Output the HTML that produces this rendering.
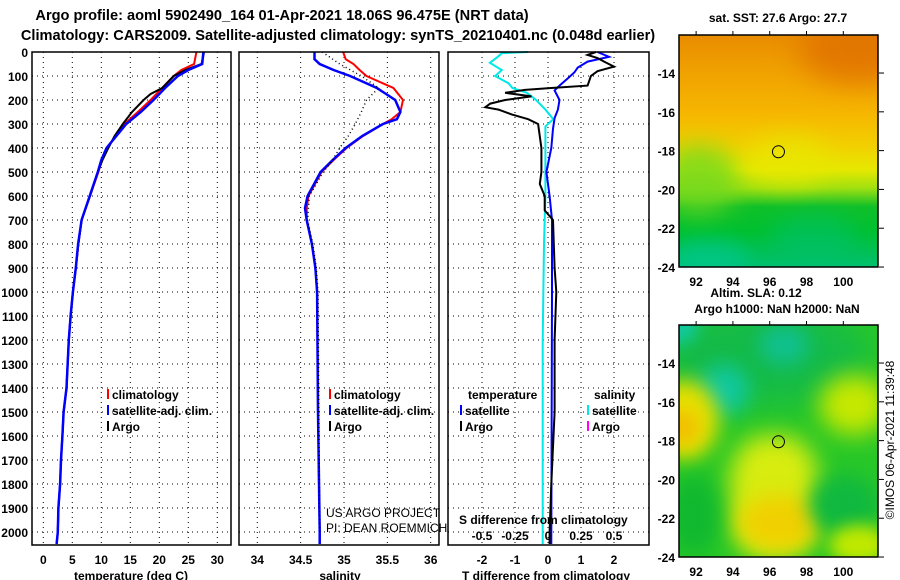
<!DOCTYPE html>
<html><head><meta charset="utf-8"><style>
body{margin:0;background:#fff;}
svg{display:block;font-family:"Liberation Sans",sans-serif;}
</style></head><body>
<div style="position:relative;width:900px;height:580px;overflow:hidden">
<div style="position:absolute;left:679px;top:35px;width:199px;height:232px;overflow:hidden;background:linear-gradient(180deg,#e88c00 0%,#f0a000 15%,#f6b800 35%,#f2d000 48%,#e6e800 58%,#a0e010 66%,#10c028 74%,#00c030 85%,#00c070 100%);">
  <div style="position:absolute;left:120px;top:-20px;width:120px;height:70px;background:#e07000;border-radius:50%;filter:blur(14px);opacity:.8"></div>
  <div style="position:absolute;left:-20px;top:110px;width:80px;height:70px;background:#70d820;border-radius:50%;filter:blur(12px);opacity:.8"></div>
  <div style="position:absolute;left:70px;top:100px;width:80px;height:50px;background:#e8e800;border-radius:50%;filter:blur(12px);opacity:.7"></div>
  <div style="position:absolute;left:90px;top:180px;width:90px;height:50px;background:#00c070;border-radius:50%;filter:blur(12px);opacity:.6"></div>
  <div style="position:absolute;left:-10px;top:205px;width:80px;height:40px;background:#00c890;border-radius:50%;filter:blur(10px);opacity:.7"></div>
</div>
<div style="position:absolute;left:679px;top:325px;width:199px;height:232px;overflow:hidden;background:#28c828;">
  <div style="position:absolute;left:-20px;top:-20px;width:210px;height:100px;background:#10b850;border-radius:50%;filter:blur(16px);opacity:.8"></div>
  <div style="position:absolute;left:20px;top:40px;width:50px;height:50px;background:#10c8a0;border-radius:50%;filter:blur(10px)"></div>
  <div style="position:absolute;left:-30px;top:-20px;width:50px;height:40px;background:#10c8a0;border-radius:50%;filter:blur(8px)"></div>
  <div style="position:absolute;left:80px;top:0px;width:50px;height:40px;background:#10c090;border-radius:50%;filter:blur(10px)"></div>
  <div style="position:absolute;left:50px;top:110px;width:90px;height:125px;background:#d8ec10;border-radius:40%;filter:blur(12px)"></div>
  <div style="position:absolute;left:60px;top:170px;width:80px;height:55px;background:#f0d000;border-radius:50%;filter:blur(10px)"></div>
  <div style="position:absolute;left:-30px;top:55px;width:70px;height:80px;background:#e8e000;border-radius:50%;filter:blur(10px)"></div>
  <div style="position:absolute;left:-15px;top:85px;width:35px;height:35px;background:#f0c000;border-radius:50%;filter:blur(8px)"></div>
  <div style="position:absolute;left:140px;top:50px;width:70px;height:60px;background:#c8e800;border-radius:50%;filter:blur(12px)"></div>
  <div style="position:absolute;left:130px;top:150px;width:70px;height:60px;background:#10b840;border-radius:50%;filter:blur(10px)"></div>
  <div style="position:absolute;left:150px;top:200px;width:60px;height:40px;background:#c0e800;border-radius:50%;filter:blur(8px)"></div>
  <div style="position:absolute;left:-10px;top:150px;width:50px;height:80px;background:#10b830;border-radius:50%;filter:blur(10px)"></div>
</div>
<svg id="s" width="900" height="580" style="position:absolute;left:0;top:0"></svg>
</div>
<script>
// ---- data ----
const depthTC=[0,50,75,100,150,200,250,300,350,400,450,500,600,700,800,900,1000,1100,1200,1400,1500,1600,1700,1800,1900,2000,2050];
const tempClim=[26.4,26.0,23.8,22.5,20.5,18.5,16.3,14.0,12.5,10.9,10.1,9.5,8.05,6.6,6.05,5.6,5.1,4.7,4.4,4.0,3.5,3.3,3.05,2.9,2.6,2.5,2.3];
const tempSat=[27.6,27.4,25.0,23.2,21.0,19.0,16.8,14.3,12.6,10.9,10.0,9.4,8.0,6.6,6.0,5.6,5.1,4.7,4.4,4.0,3.5,3.3,3.05,2.9,2.6,2.5,2.3];
const depthTA=[0,50,75,100,150,175,200,250,300,350,400,450,500,600,700,800,900,1000,1100,1200,1400,1500,1600,1700,1800,1900,2000];
const tempArgo=[27.7,27.3,24.5,22.5,20.5,18.5,17.3,15.3,13.7,12.3,11.2,10.2,9.4,8.05,6.6,6.05,5.6,5.1,4.7,4.4,4.0,3.5,3.3,3.05,2.9,2.6,2.5];
const depthS=[0,30,50,75,100,150,200,250,280,300,350,400,450,500,600,650,700,800,900,1000,1500,2000,2050];
const salClim=[34.99,35.02,35.11,35.18,35.26,35.57,35.68,35.65,35.55,35.45,35.22,35.03,34.88,34.74,34.59,34.57,34.57,34.63,34.67,34.69,34.70,34.72,34.72];
const salSat=[34.66,34.66,34.72,34.88,35.07,35.38,35.59,35.65,35.61,35.45,35.21,35.02,34.87,34.73,34.58,34.55,34.57,34.63,34.67,34.69,34.70,34.72,34.72];
const depthSA=[0,50,100,150,200,250,300,350,400,450,500,600,700,800,900,1000,1500,2000];
const salArgo=[34.75,34.95,35.2,35.4,35.26,35.2,35.13,35.05,34.95,34.87,34.76,34.6,34.58,34.64,34.68,34.7,34.71,34.72];
const depthTD=[0,12,25,40,61,80,100,140,150,158,170,185,200,215,230,240,260,280,300,400,500,550,600,660,700,900,1000,1200,1500,1800,2000,2050];
const tdiffArgo=[1.45,1.2,1.5,1.7,2.0,1.5,1.3,1.2,0.1,-0.7,-1.3,-0.5,-1.3,-1.75,-1.9,-1.5,-1.1,-0.6,-0.3,-0.2,-0.2,-0.25,-0.1,-0.1,0.15,0.2,0.25,0.2,0.2,0.1,0.05,0.05];
const depthTS=[0,20,40,65,85,110,140,160,200,240,275,320,400,500,600,700,1000,2050];
const tdiffSat=[1.5,1.85,1.2,0.9,0.8,0.6,0.35,0.2,0.35,0.3,0.2,0.15,0.1,-0.05,0.05,0.12,0.12,0.1];
const depthSS=[0,5,20,45,75,100,130,150,170,200,240,280,310,400,600,800,1200,2050];
const sdiffSat=[-0.15,-0.35,-0.38,-0.44,-0.35,-0.4,-0.3,-0.27,-0.16,-0.09,-0.02,0.04,-0.02,-0.02,-0.02,-0.03,-0.04,-0.04];
const depthTicks=[0,100,200,300,400,500,600,700,800,900,1000,1100,1200,1300,1400,1500,1600,1700,1800,1900,2000];
const tempTicks=[0,5,10,15,20,25,30];
const salTicks=[34,34.5,35,35.5,36];
const tdTicks=[-2,-1,0,1,2];
const sdTicks=[-0.5,-0.25,0,0.25,0.5];
const sdTickLabels=["-0.5","-0.25","0","0.25","0.5"];
const lonTicks=[92,94,96,98,100];
const latTicks=[-14,-16,-18,-20,-22,-24];
const argoLon=96.475, argoLat=-18.06;

// ---- scales ----
const Y=d=>52+d*0.24;
const XT=t=>43.3+t*5.8;
const XS=s=>257.3+(s-34)*86.7;
const XTD=v=>548+v*33;
const XSD=v=>548+v*132;
const LON=l=>679+(l-91.07)*18.4;
const LAT1=a=>35+(-12.04-a)*19.4;
const LAT2=a=>325+(-12.04-a)*19.4;

const svg=document.getElementById('s');
const NS='http://www.w3.org/2000/svg';
function mk(tag,attrs,parent){const e=document.createElementNS(NS,tag);for(const k in attrs)e.setAttribute(k,attrs[k]);(parent||svg).appendChild(e);return e;}
function txt(x,y,s,size,anchor,bold,name){const e=mk('text',{x:x,y:y,'font-size':size,'text-anchor':anchor||'start'});if(bold)e.setAttribute('font-weight','bold');e.textContent=s;


return e;}
function line(xs,ys,color,w,name,dash){const pts=xs.map((x,i)=>x.toFixed(1)+','+ys[i].toFixed(1)).join(' ');const e=mk('polyline',{points:pts,fill:'none',stroke:color,'stroke-width':w});if(dash)e.setAttribute('stroke-dasharray',dash);


return e;}

const panels=[[32,231,'temperature-panel'],[239,439,'salinity-panel'],[448,649,'difference-panel']];
panels.forEach(p=>{
  const g=mk('g',{});
  
  
  depthTicks.forEach(d=>{if(d>0){const l=mk('line',{x1:p[0],x2:p[1],y1:Y(d),y2:Y(d),stroke:'#000','stroke-width':1,'stroke-dasharray':'1,4'},g);
    
    }});
});
function vgrid(vals,sc){vals.forEach(v=>{const l=mk('line',{x1:sc(v),x2:sc(v),y1:52,y2:545,stroke:'#000','stroke-width':1,'stroke-dasharray':'1,4'});
  
  });}
vgrid(tempTicks,XT);vgrid(salTicks,XS);vgrid(tdTicks,XTD);

line(tempClim.map(XT),depthTC.map(Y),'#f00',2,'temp-climatology-line');
line(tempArgo.map(XT),depthTA.map(Y),'#000',2,'temp-argo-line');
line(tempSat.map(XT),depthTC.map(Y),'#00f',2.5,'temp-satellite-line');
line(salClim.map(XS),depthS.map(Y),'#f00',2,'sal-climatology-line');
line(salSat.map(XS),depthS.map(Y),'#00f',2.5,'sal-satellite-line');
line(salArgo.map(XS),depthSA.map(Y),'#000',1.5,'sal-argo-line','1,3');
line(sdiffSat.map(XSD),depthSS.map(Y),'#00e8e8',2,'sdiff-satellite-line');
line(tdiffSat.map(XTD),depthTS.map(Y),'#00f',2,'tdiff-satellite-line');
line(tdiffArgo.map(XTD),depthTD.map(Y),'#000',2,'tdiff-argo-line');

panels.forEach(p=>{const r=mk('rect',{x:p[0],y:52,width:p[1]-p[0],height:493,fill:'none',stroke:'#000','stroke-width':1.5});
  
  });

depthTicks.forEach(d=>txt(28,Y(d)+5,String(d),12,'end',true,'y-tick-label'));
tempTicks.forEach(t=>txt(XT(t),564,String(t),12,'middle',true,'x-tick-label'));
salTicks.forEach(s=>txt(XS(s),564,String(s),12,'middle',true,'x-tick-label'));
tdTicks.forEach(t=>txt(XTD(t),564,String(t),12,'middle',true,'x-tick-label'));
sdTicks.forEach((s,i)=>txt(XSD(s),540,sdTickLabels[i],12,'middle',true,'s-tick-label'));
txt(131,580,'temperature (deg C)',12,'middle',true,'x-axis-title');
txt(340,580,'salinity',12,'middle',true,'x-axis-title');
txt(546,580,'T difference from climatology',12,'middle',true,'x-axis-title');
txt(459,524,'S difference from climatology',12,'start',true,'s-axis-title');

txt(282,20,'Argo profile: aoml 5902490_164 01-Apr-2021 18.06S 96.475E (NRT data)',14.6,'middle',true,'chart-title');
txt(338,40,'Climatology: CARS2009. Satellite-adjusted climatology: synTS_20210401.nc (0.048d earlier)',14.6,'middle',true,'chart-subtitle');

function leg(x,y,color,label){const r=mk('rect',{x:x,y:y-10,width:2,height:10,fill:color});
  
  
  if(label)txt(x+5,y,label,12,'start',true,'legend-entry');}
leg(107,399,'#f00','climatology');leg(107,415,'#00f','satellite-adj. clim.');leg(107,431,'#000','Argo');
leg(329,399,'#f00','climatology');leg(329,415,'#00f','satellite-adj. clim.');leg(329,431,'#000','Argo');
txt(468,399,'temperature',12,'start',true,'legend-title');
leg(460,415,'#00f','satellite');leg(460,431,'#000','Argo');
txt(594,399,'salinity',12,'start',true,'legend-title');
leg(587,415,'#00e8e8','satellite');leg(587,431,'#f0f','Argo');
txt(326,517,'US ARGO PROJECT',12,'start',false,'credit-text');
txt(326,532,'PI: DEAN ROEMMICH',12,'start',false,'credit-text');

[[LAT1,35,286,'sst'],[LAT2,325,576,'sla']].forEach(m=>{
  const fr=mk('rect',{x:679,y:m[1],width:199,height:232,fill:'none',stroke:'#000','stroke-width':1.5});
  
  
  latTicks.forEach(a=>{txt(675,m[0](a)+5,String(a),12,'end',true,'lat-tick-label');
    const t=mk('line',{x1:879,x2:884,y1:m[0](a),y2:m[0](a),stroke:'#000'});
    
    });
  lonTicks.forEach(l=>{txt(LON(l),m[2],String(l),12,'middle',true,'lon-tick-label');
    const t=mk('line',{x1:LON(l),x2:LON(l),y1:m[1]-4,y2:m[1],stroke:'#000'});
    
    });
  const c=mk('circle',{cx:LON(argoLon),cy:m[0](argoLat),r:6,fill:'none',stroke:'#000','stroke-width':1});
  
  
});
txt(778,22,'sat. SST: 27.6 Argo: 27.7',12,'middle',true,'sst-map-title');
txt(756,297,'Altim. SLA: 0.12',12,'middle',true,'sla-map-title');
txt(777,313,'Argo h1000: NaN h2000: NaN',12,'middle',true,'sla-map-subtitle');
const cr=txt(0,0,'©IMOS 06-Apr-2021 11:39:48',12,'middle',false,'copyright-text');
cr.setAttribute('transform','translate(894,440) rotate(-90)');
</script>
</body></html>
